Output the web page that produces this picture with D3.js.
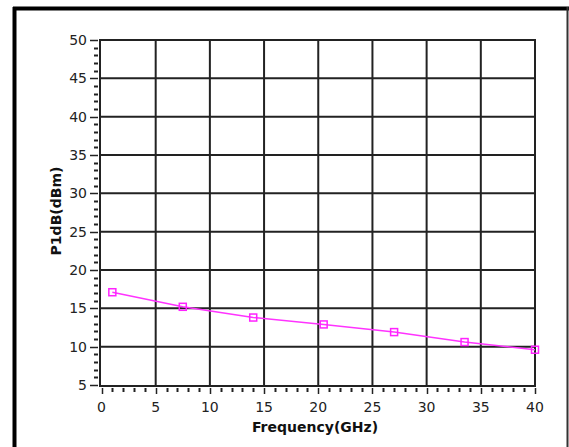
<!doctype html>
<html>
<head>
  <title>P1dB vs Frequency</title>
  <script src="https://d3js.org/d3.v7.min.js" charset="utf-8"></script>
  <style>
    body { margin: 0; background: #fff; }
    svg { display: block; }
  </style>
</head>
<body>
  <svg width="569" height="447"></svg>
  <script>
  // data
  var freqGHz = [1, 7.5, 14, 20.5, 27, 33.5, 40];
  var p1dB = [17.1, 15.2, 13.8, 12.9, 11.9, 10.6, 9.6];
  var xTicks = [0, 5, 10, 15, 20, 25, 30, 35, 40];
  var yTicks = [5, 10, 15, 20, 25, 30, 35, 40, 45, 50];

  var svg = d3.select("svg");

  var x = d3.scaleLinear().domain([0, 40]).range([101.5, 535]),
      y = d3.scaleLinear().domain([5, 50]).range([385, 40]);

  var plot = {left: 100, top: 40, right: 535, bottom: 386};

  // outer frame
  svg.append("line").attr("x1", 14.5).attr("x2", 14.5).attr("y1", 7).attr("y2", 447)
      .attr("stroke", "#000").attr("stroke-width", 4);
  svg.append("line").attr("x1", 13).attr("x2", 569).attr("y1", 8.5).attr("y2", 8.5)
      .attr("stroke", "#000").attr("stroke-width", 4);
  svg.append("line").attr("x1", 567.5).attr("x2", 567.5).attr("y1", 7).attr("y2", 447)
      .attr("stroke", "#333").attr("stroke-width", 2);

  // grid
  var grid = svg.append("g").attr("stroke", "#222").attr("stroke-width", 2);
  grid.selectAll(".vx")
    .data(xTicks.slice(1, -1))
    .enter().append("line")
      .attr("x1", function(d) { return x(d); })
      .attr("x2", function(d) { return x(d); })
      .attr("y1", plot.top).attr("y2", plot.bottom);
  grid.selectAll(".hy")
    .data(yTicks.slice(1, -1))
    .enter().append("line")
      .attr("x1", plot.left).attr("x2", plot.right)
      .attr("y1", function(d) { return y(d); })
      .attr("y2", function(d) { return y(d); });
  grid.append("rect")
      .attr("x", plot.left).attr("y", plot.top)
      .attr("width", plot.right - plot.left).attr("height", plot.bottom - plot.top)
      .attr("fill", "none");

  // y axis: minor ticks every 1, major every 5
  var yMinor = d3.range(5, 51, 1);
  svg.append("g").selectAll("line")
    .data(yMinor)
    .enter().append("line")
      .attr("x1", function(d) { return d % 5 === 0 ? 90 : 94; })
      .attr("x2", 98)
      .attr("y1", function(d) { return Math.round(y(d)) + 0.5; })
      .attr("y2", function(d) { return Math.round(y(d)) + 0.5; })
      .attr("stroke", "#222").attr("stroke-width", function(d) { return d % 5 === 0 ? 1.5 : 2; });

  svg.append("g").selectAll("text")
    .data(yTicks)
    .enter().append("text")
      .attr("x", 87)
      .attr("y", function(d) { return y(d); })
      .attr("dy", "0.36em")
      .attr("text-anchor", "end")
      .attr("font-family", "DejaVu Sans")
      .attr("font-size", 14)
      .attr("fill", "#222")
      .text(function(d) { return d; });

  // x axis
  var xMinor = d3.range(0, 41, 1);
  svg.append("g").selectAll("line")
    .data(xMinor)
    .enter().append("line")
      .attr("x1", function(d) { return Math.round(x(d)) + 0.5; })
      .attr("x2", function(d) { return Math.round(x(d)) + 0.5; })
      .attr("y1", 388)
      .attr("y2", function(d) { return d % 5 === 0 ? 394 : 392; })
      .attr("stroke", "#222").attr("stroke-width", function(d) { return d % 5 === 0 ? 1.5 : 2; });

  svg.append("g").selectAll("text")
    .data(xTicks)
    .enter().append("text")
      .attr("x", function(d) { return x(d); })
      .attr("y", 412)
      .attr("text-anchor", "middle")
      .attr("font-family", "DejaVu Sans")
      .attr("font-size", 14)
      .attr("fill", "#222")
      .text(function(d) { return d; });

  // titles
  svg.append("text")
      .attr("x", 315).attr("y", 432)
      .attr("text-anchor", "middle")
      .attr("font-family", "DejaVu Sans").attr("font-weight", "bold").attr("font-size", 14)
      .attr("fill", "#111")
      .text("Frequency(GHz)");
  svg.append("text")
      .attr("transform", "translate(61,211) rotate(-90)")
      .attr("text-anchor", "middle")
      .attr("font-family", "DejaVu Sans").attr("font-weight", "bold").attr("font-size", 14)
      .attr("fill", "#111")
      .text("P1dB(dBm)");

  // series
  var pts = freqGHz.map(function(f, i) { return [f, p1dB[i]]; });
  var line = d3.line()
      .x(function(d) { return x(d[0]); })
      .y(function(d) { return y(d[1]); });

  svg.append("path")
      .datum(pts)
      .attr("d", line)
      .attr("fill", "none")
      .attr("stroke", "#ff33ff")
      .attr("stroke-width", 1.5);

  svg.selectAll(".mk")
    .data(pts)
    .enter().append("rect")
      .attr("class", "mk")
      .attr("x", function(d) { return x(d[0]) - 3.5; })
      .attr("y", function(d) { return y(d[1]) - 3.5; })
      .attr("width", 7).attr("height", 7)
      .attr("fill", "none")
      .attr("stroke", "#ff22ff")
      .attr("stroke-width", 1.5);
  </script>
</body>
</html>
